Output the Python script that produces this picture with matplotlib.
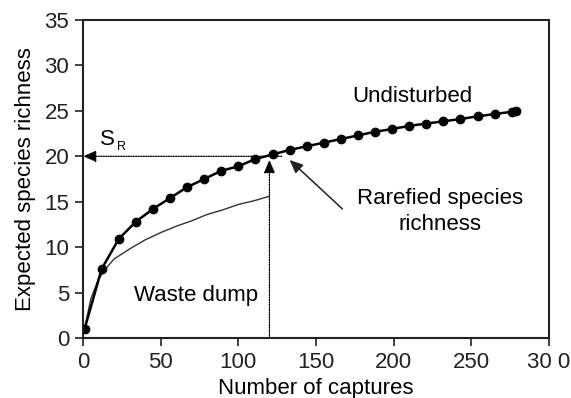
import matplotlib.pyplot as plt

plt.rcParams['font.family'] = ['Liberation Sans', 'DejaVu Sans']

# undisturbed site, rarefaction points
und_x = [1, 12, 23, 34, 45, 56, 67, 78, 89, 100, 111, 122, 133, 144, 155,
         166, 177, 188, 199, 210, 221, 232, 243, 254, 265, 276, 279]
und_y = [1.0, 7.6, 10.9, 12.8, 14.2, 15.4, 16.6, 17.5, 18.4, 18.9, 19.7, 20.2,
         20.7, 21.1, 21.5, 21.9, 22.3, 22.7, 23.0, 23.35, 23.6, 23.85, 24.1,
         24.4, 24.65, 24.9, 25.0]

# waste dump site
waste_x = [1, 5, 10, 15, 20, 30, 40, 50, 60, 70, 80, 90, 100, 110, 120]
waste_y = [1.0, 4.3, 6.5, 7.7, 8.7, 9.8, 10.8, 11.6, 12.3, 12.9, 13.6, 14.1,
           14.7, 15.1, 15.6]

rare_n = 120
rare_s = 20

xticks = [0, 50, 100, 150, 200, 250, 300]
xtick_labels = ['0', '50', '100', '150', '200', '250', '30 0']
yticks = [0, 5, 10, 15, 20, 25, 30, 35]

fs = 16

fig = plt.figure(figsize=(5.71, 3.98), dpi=100)
ax = fig.add_axes([0.1454, 0.1508, 0.8161, 0.7989])

ax.plot(waste_x, waste_y, color='#333333', lw=1.0)
ax.plot(und_x, und_y, color='black', lw=1.8, marker='o', ms=6)

# dotted guides with arrows
ax.annotate('', xy=(0, rare_s), xytext=(rare_n + 8, rare_s),
            arrowprops=dict(arrowstyle='-|>,head_length=0.8,head_width=0.35',
                            ls=(0, (1, 1)), lw=0.9, color='black',
                            shrinkA=0, shrinkB=0))
ax.annotate('', xy=(rare_n, rare_s - 0.4), xytext=(rare_n, 0),
            arrowprops=dict(arrowstyle='-|>,head_length=0.8,head_width=0.35',
                            ls=(0, (1, 1)), lw=0.9, color='black',
                            shrinkA=0, shrinkB=0))
ax.annotate('', xy=(133, 19.6), xytext=(167, 14.2),
            arrowprops=dict(arrowstyle='-|>,head_length=0.8,head_width=0.35',
                            lw=1.1, color='#222222', shrinkA=0, shrinkB=0))

ax.text(212, 26.6, 'Undisturbed', fontsize=fs, ha='center', va='center')
ax.text(230, 13.9, 'Rarefied species\nrichness', fontsize=fs, ha='center',
        va='center', linespacing=1.3)
ax.text(73, 4.7, 'Waste dump', fontsize=fs, ha='center', va='center')
ax.text(11, 21.9, 'S', fontsize=fs, ha='left', va='center')
ax.text(22, 21.0, 'R', fontsize=9, ha='left', va='center')

ax.set_xlim(0, 300)
ax.set_ylim(0, 35)
ax.set_xticks(xticks)
ax.set_xticklabels(xtick_labels)
ax.set_yticks(yticks)
ax.tick_params(direction='out', length=6, width=1.2, labelsize=fs,
               colors='#222222', pad=4)
for s in ax.spines.values():
    s.set_linewidth(1.5)
    s.set_color('#222222')

ax.set_xlabel('Number of captures', fontsize=fs, labelpad=4)
ax.set_ylabel('Expected species richness', fontsize=fs, labelpad=6)

fig.savefig('out.png', dpi=100)
